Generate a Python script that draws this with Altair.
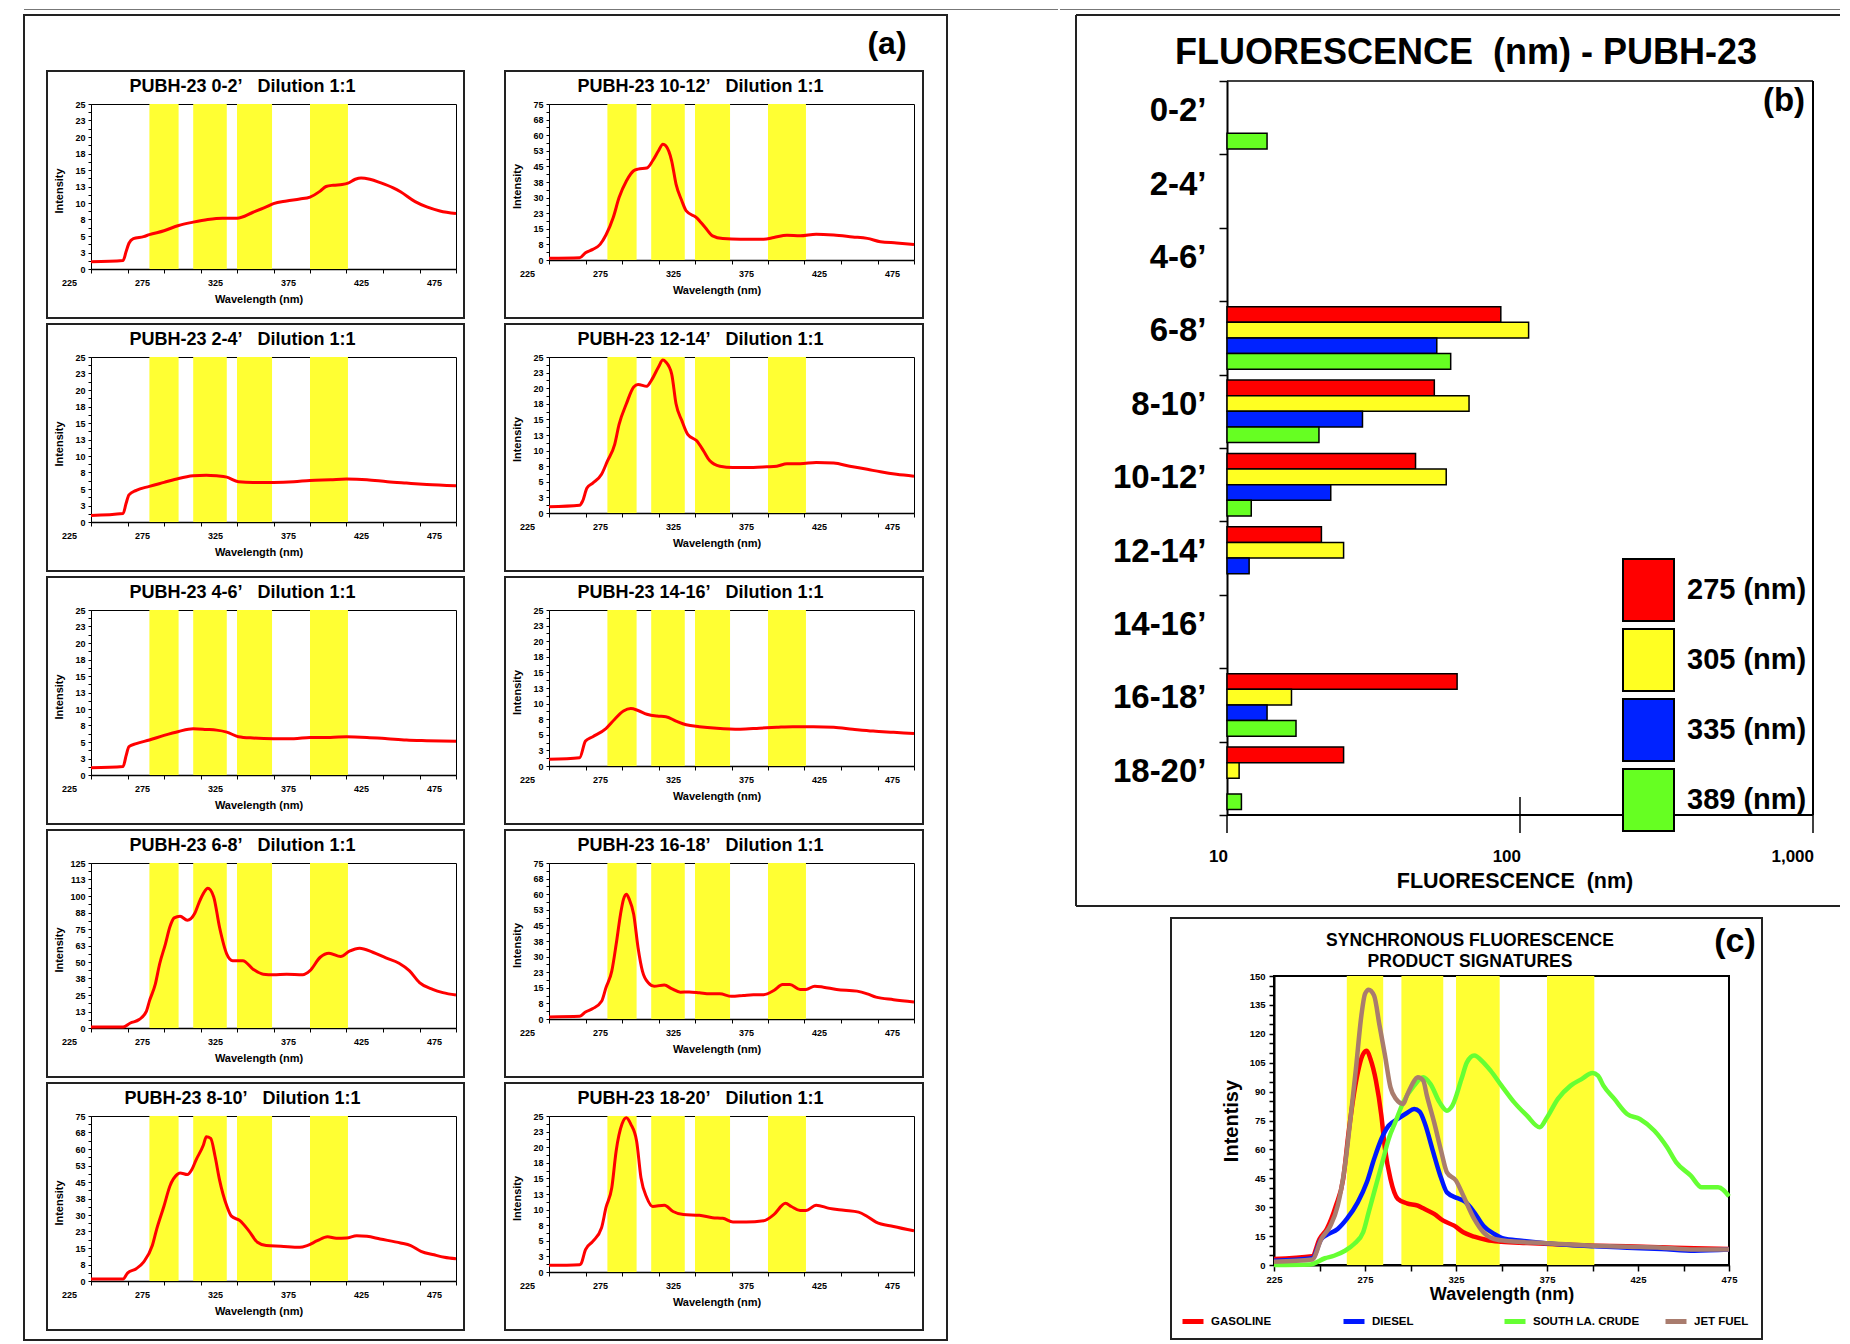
import altair as alt
import pandas as pd

ARIAL = "Liberation Sans, Arial, Helvetica, sans-serif"
YELLOW = "#FFFF33"

# ---------------- yellow wavelength windows (nm)
band_start = [265, 295, 325, 375]
band_end = [285, 318, 349, 401]

# ---------------- panel (a) spectra
w02 = [225,247,249,251,254,261,265,275,285,295,305,315,325,336,345,350,359,368,375,382,386,391,397,401,406,410,416,423,432,437,447,455,464,475]
v02 = [1.1,1.3,2.6,3.9,4.6,4.9,5.2,5.8,6.6,7.1,7.5,7.7,7.7,8.6,9.4,9.9,10.3,10.6,10.9,11.8,12.5,12.7,12.8,13.0,13.6,13.8,13.6,13.1,12.3,11.7,10.2,9.4,8.8,8.4]

w24 = [225,247,249,251,256,265,275,285,295,304,311,318,326,336,350,364,375,389,400,414,428,441,455,475]
v24 = [1.0,1.3,2.8,4.1,4.8,5.4,6.0,6.6,7.0,7.1,7.0,6.8,6.1,6.0,6.0,6.1,6.3,6.4,6.5,6.4,6.1,5.9,5.7,5.5]

w46 = [225,247,249,251,256,265,275,285,295,304,311,318,326,336,350,364,375,389,400,414,428,441,455,475]
v46 = [1.1,1.3,2.9,4.3,4.75,5.3,6.0,6.6,7.0,6.9,6.8,6.5,5.8,5.6,5.5,5.5,5.7,5.7,5.8,5.7,5.5,5.3,5.2,5.1]

w68 = [225,247,252,258,263,265,269,272,276,279,282,286,291,296,299,302,305,309,313,318,322,329,336,343,350,359,370,375,382,388,396,402,409,418,427,436,443,450,459,466,475]
v68 = [0.8,0.8,3.8,6.4,12.8,20.4,33,48.5,63.8,76.5,83.4,84.7,81.6,86.7,95,102,105.9,99.5,76.5,56,51,51,44.6,40.8,40.3,40.8,40.3,43.4,53.6,56.6,54.1,58.2,60.5,57.4,53.1,49,43.4,34.4,29.3,26.8,25]

w810 = [225,247,250,256,261,267,270,275,279,284,286,291,294,297,302,304,307,310,313,318,321,327,333,339,345,355,368,373,380,387,393,400,407,414,423,437,444,451,460,467,475]
v810 = [0.9,0.9,3.6,5.6,8.6,16.1,23.6,34.1,43.1,48.4,49.1,48.4,50.6,55.1,61.8,65.6,64.8,56.6,46.1,34.1,29.6,27.4,22.9,17.6,16.1,15.8,15.3,16.1,18.3,20.1,19.4,19.5,20.6,20.3,19.1,17.3,16.1,13.5,11.9,10.8,10.1]

w1012 = [225,246,250,255,260,264,269,273,278,283,286,292,296,300,303,305,309,312,316,319,326,332,337,344,356,372,379,388,397,408,420,433,443,452,463,475]
v1012 = [0.8,1.1,3.5,5.1,7.5,12,20.4,30,38,42.9,43.7,44.2,47.7,52.5,55.7,54.9,47.7,36.5,28.4,23.6,20.4,15.6,11.6,10.3,10.0,10.0,10.8,11.9,11.6,12.4,12.0,11.1,10.4,8.8,8.2,7.5]

w1214 = [225,246,248,251,255,261,265,270,273,278,283,286,292,295,300,303,305,309,312,316,320,326,331,335,342,351,365,374,381,388,397,408,420,431,443,452,463,475]
v1214 = [1.0,1.24,1.9,4.0,4.8,6.2,8.3,11.0,14.2,17.5,20.2,20.6,20.3,21.2,23.4,24.5,24.2,22.3,17.5,14.8,12.6,11.6,9.9,8.4,7.5,7.3,7.3,7.4,7.5,7.9,7.9,8.1,8.0,7.5,7.0,6.6,6.2,5.9]

w1416 = [225,246,250,255,264,270,276,281,286,292,299,305,312,319,328,340,356,369,381,392,406,420,433,447,461,475]
v1416 = [1.07,1.34,4.0,4.7,6.0,7.5,8.8,9.2,8.9,8.3,8.0,7.9,7.2,6.6,6.3,6.05,5.9,6.05,6.2,6.3,6.3,6.2,5.9,5.6,5.4,5.2]

w1618 = [225,246,250,255,261,264,268,271,274,276,278,280,283,286,289,293,297,304,309,315,321,328,335,342,350,358,365,372,379,385,390,397,401,407,413,422,436,443,449,461,475]
v1618 = [1.0,1.3,3.4,5.0,8.5,15.0,23.0,35.9,50.4,57.5,60,57.5,50.4,34.3,23.0,17.4,15.8,16.3,14.6,12.9,13.0,12.6,12.1,12.1,10.9,11.3,11.7,11.7,13.7,16.6,16.6,14.2,14.2,15.8,15.3,14.2,13.4,12.1,10.5,9.3,8.2]

w1820 = [225,246,247,250,255,261,264,268,271,275,278,281,285,288,292,296,304,310,317,328,337,344,351,360,372,379,387,391,397,401,408,417,427,437,443,449,461,475]
v1820 = [1.07,1.18,1.34,3.6,4.9,7.1,10.3,13.5,19.4,23.7,24.7,23.7,21.0,15.1,11.9,10.5,10.7,9.7,9.2,9.1,8.7,8.6,8.0,8.0,8.2,9.2,11.0,10.5,9.85,9.85,10.7,10.2,9.9,9.6,8.9,8.0,7.3,6.6]

panel_names = ["0-2’", "10-12’", "2-4’", "12-14’", "4-6’", "14-16’", "6-8’", "16-18’", "8-10’", "18-20’"]
panel_ymax = [25, 75, 25, 25, 25, 25, 125, 75, 75, 25]
panel_wl = [w02, w1012, w24, w1214, w46, w1416, w68, w1618, w810, w1820]
panel_val = [v02, v1012, v24, v1214, v46, v1416, v68, v1618, v810, v1820]

# ---------------- panel (b) bar values
depths = ["0-2’", "2-4’", "4-6’", "6-8’", "8-10’", "10-12’", "12-14’", "14-16’", "16-18’", "18-20’"]
wave_labels = ["275 (nm)", "305 (nm)", "335 (nm)", "389 (nm)"]
wave_colors = ["#FF0000", "#FFFF22", "#0022FF", "#66FF22"]
f275 = [None, None, None, 86, 51, 44, 21, None, 61, 25]
f305 = [None, None, None, 107, 67, 56, 25, None, 16.6, 11]
f335 = [None, None, None, 52, 29, 22.6, 11.9, None, 13.7, None]
f389 = [13.7, None, None, 58, 20.6, 12.1, None, None, 17.2, 11.2]
fl_ticks = [10, 100, 1000]
fl_tick_labels = ["10", "100", "1,000"]

# ---------------- panel (c) product signatures
gas_w = [225,246,250,254,259,263,266,270,274,276,278,281,284,286,289,293,298,304,307,313,318,324,329,335,342,350,364,383,401,419,438,456,475]
gas_v = [3.1,4.5,13.5,18.7,30.8,44.6,68.9,94.8,109.5,111.2,106.9,95.7,77.5,60.2,44.6,34.3,32.0,30.8,29.4,26.5,23.0,20.4,17.0,14.7,13.0,12.1,11.4,10.6,10.0,9.7,9.2,8.7,8.3]
dsl_w = [225,246,251,254,260,265,271,276,280,284,288,293,298,302,305,308,312,317,320,326,330,335,340,346,351,361,383,401,419,438,456,475]
dsl_v = [2.2,3.5,13.5,15.6,18.7,23.9,32.5,42.9,55.0,65.4,72.3,75.8,78.9,81.0,79.6,73.2,60.2,44.6,37.7,34.6,32.9,27.3,20.4,16.1,13.8,12.6,10.6,9.7,9.0,8.3,7.4,8.0]
crd_w = [225,245,253,258,264,269,274,277,281,285,288,292,296,302,307,311,316,320,323,328,331,335,340,344,350,357,364,371,375,381,388,394,400,403,406,412,419,426,434,441,446,454,460,469,475]
crd_v = [0,0.3,3.5,4.8,7.4,10.9,17.0,27.3,41.2,55.0,65.4,74.9,84.4,93.1,97.4,93.9,84.4,80.1,82.7,96.5,105.2,108.7,105.2,100.9,93.1,84.4,77.5,71.5,76.6,86.2,93.1,96.5,99.7,98.3,93.1,86.2,78.4,75.8,69.7,61.1,53.3,46.4,40.3,40.3,35.6]
jet_w = [225,246,251,256,260,264,267,270,273,275,277,280,283,286,289,292,296,298,301,304,307,309,313,317,320,325,329,335,340,346,355,373,401,419,438,456,475]
jet_v = [1.7,2.8,13.5,20.4,30.8,51.6,75.8,101.7,129.4,140.7,142.9,139.8,124.2,108.7,92.2,86.2,83.6,87.9,93.9,97.4,95.7,87.9,74.0,58.5,48.1,43.8,36.0,23.9,17.0,13.5,12.3,11.4,10.0,9.5,9.0,8.0,8.0]
prod_names = ["GASOLINE", "DIESEL", "SOUTH LA. CRUDE", "JET FUEL"]
prod_colors = ["#FF0000", "#0018FF", "#66FF33", "#A97C6E"]
prod_w = [gas_w, dsl_w, crd_w, jet_w]
prod_v = [gas_v, dsl_v, crd_v, jet_v]

# ---------------- helpers
bands_df = pd.DataFrame({"start": band_start, "end": band_end})
one = pd.DataFrame({"k": [0]})


def txt(t, x, y, size, align="center", baseline="middle", **kw):
    return alt.Chart(pd.DataFrame({"t": [t]})).mark_text(
        font=ARIAL, fontSize=size, fontWeight="bold", align=align,
        baseline=baseline, color="black", **kw
    ).encode(x=alt.value(x), y=alt.value(y), text="t:N")


def box(x1, x2, y1, y2, w=2, color="#222222"):
    return alt.Chart(one).mark_rect(filled=False, stroke=color, strokeWidth=w).encode(
        x=alt.value(x1), x2=alt.value(x2), y=alt.value(y1), y2=alt.value(y2))


def hrule(x1, x2, y, w=2, color="#222222"):
    return alt.Chart(one).mark_rule(color=color, strokeWidth=w).encode(
        x=alt.value(x1), x2=alt.value(x2), y=alt.value(y))


def vrule(x, y1, y2, w=2, color="#222222"):
    return alt.Chart(one).mark_rule(color=color, strokeWidth=w).encode(
        x=alt.value(x), y=alt.value(y1), y2=alt.value(y2))


# ---------------- panel (a)
PW = 365
PH = [165, 156]


def small_panel(i):
    col = i % 2
    h = PH[col]
    ymax = panel_ymax[i]
    df = pd.DataFrame({"wl": panel_wl[i], "val": panel_val[i]})
    xs = alt.Scale(domain=[225, 475], nice=False, zero=False)
    ys = alt.Scale(domain=[0, ymax], nice=False, zero=True)
    xa = alt.Axis(
        values=list(range(225, 476, 25)),
        format="d",
        labelExpr="datum.value % 50 == 25 ? datum.label : ''",
        labelOffset=-22, labelFont=ARIAL, labelFontSize=9, labelFontWeight="bold",
        labelColor="black", labelPadding=5, labelFlush=False, labelOverlap=False, labelBound=False,
        tickSize=4, tickColor="black", domainColor="black", domainWidth=1.5, grid=False,
        title="Wavelength (nm)", titleFont=ARIAL, titleFontSize=11, titleFontWeight="bold",
        titleColor="black", titleX=PW / 2 - 15, titleY=30, titleBaseline="middle",
    )
    test = f"abs(datum.value*10/{ymax} - round(datum.value*10/{ymax})) < 0.01"
    ya = alt.Axis(
        values=[round(ymax * k / 20, 4) for k in range(21)],
        labelExpr=f"{test} ? format(datum.value, '.0f') : ''",
        labelFont=ARIAL, labelFontSize=9, labelFontWeight="bold", labelColor="black",
        labelPadding=3, labelOverlap=False, labelFlush=False, labelBound=False,
        tickSize=3, tickColor="black", domainColor="black", domainWidth=1, grid=False,
        title="Intensity", titleFont=ARIAL, titleFontSize=11, titleFontWeight="bold",
        titleColor="black", titleX=-32, titleY=h / 2 + 4, titleBaseline="middle", titleAngle=270,
    )
    bands = alt.Chart(bands_df).mark_rect(color=YELLOW).encode(
        x=alt.X("start:Q", scale=xs, axis=xa), x2="end:Q")
    line = alt.Chart(df).mark_line(color="#FF0000", strokeWidth=3, interpolate="monotone").encode(
        x=alt.X("wl:Q", scale=xs, axis=xa), y=alt.Y("val:Q", scale=ys, axis=ya))
    frame = box(-44, PW + 8 + col, -33, 214)
    title = txt("PUBH-23 " + panel_names[i] + "\u00a0\u00a0\u00a0Dilution 1:1",
                PW / 2 - 31, -12, 18, baseline="alphabetic")
    layers = [bands, line, frame, title]
    if i == 0:
        layers += [
            box(-67, 856, -89, 1236),
            hrule(-67, 967, -94.5, w=1, color="#777777"),
            txt("(a)", 796, -60, 32),
        ]
    return alt.layer(*layers).properties(width=PW, height=h)


panels = [small_panel(i) for i in range(10)]
A = alt.concat(*panels, columns=2, spacing={"row": 88, "column": 93}, bounds="flush").resolve_scale(
    x="independent", y="independent")

# ---------------- panel (b)   (origin of this view sits at page (1274,103))
BX0, BY0 = -47, -23
BW = BX0 + 586
BH = BY0 + 734
RIGHT_END = 566
bar_rows = []
for i, d in enumerate(depths):
    for s, arr in zip(wave_labels, [f275, f305, f335, f389]):
        if arr[i] is not None:
            bar_rows.append({"depth": d, "wave": s, "fl": arr[i], "base": 10})
bdf = pd.DataFrame(bar_rows)
tick_df = pd.DataFrame({"fl": fl_ticks, "lab": fl_tick_labels})

xlog = alt.Scale(type="log", domain=[10, 1000], nice=False, range=[BX0, BW])
yaxis_b = alt.Axis(
    title=None, offset=-BX0, labelFont=ARIAL, labelFontSize=33, labelFontWeight="bold",
    labelColor="black", labelAlign="right", labelBaseline="middle", labelPadding=13,
    labelOffset=-7, labelLimit=400, grid=False,
    tickSize=8, tickBand="extent", tickWidth=1.5, tickColor="black",
    domainColor="black", domainWidth=2,
)
legend_b = alt.Legend(
    title=None, orient="none", legendX=342.5, legendY=454, padding=0, rowPadding=0,
    symbolType="M-0.8226,-1H0.8226V1H-0.8226Z", symbolSize=3844,
    symbolStrokeColor="black", symbolStrokeWidth=2, symbolOpacity=1,
    labelFont=ARIAL, labelFontSize=29, labelFontWeight="bold", labelColor="black",
    labelOffset=6.5, labelLimit=400,
)
bars = alt.Chart(bdf).mark_bar(stroke="black", strokeWidth=1.5, opacity=1).encode(
    y=alt.Y("depth:N", sort=depths,
            scale=alt.Scale(domain=depths, range=[BY0, BH], paddingInner=0, paddingOuter=0),
            axis=yaxis_b),
    yOffset=alt.YOffset("wave:N", sort=wave_labels,
                        scale=alt.Scale(domain=wave_labels, paddingInner=0, paddingOuter=0.35)),
    x=alt.X("fl:Q", scale=xlog, axis=None),
    x2=alt.X2("base:Q"),
    color=alt.Color("wave:N", scale=alt.Scale(domain=wave_labels, range=wave_colors), legend=legend_b),
)
# hand-built log axis (ticks below, plus the inner tick at 100, and labels)
x_ticks = alt.Chart(tick_df).mark_rule(color="black", strokeWidth=1.5).encode(
    x=alt.X("fl:Q", scale=xlog, axis=None), y=alt.value(BH), y2=alt.value(BH + 18))
x_tick_in = alt.Chart(tick_df).transform_filter(alt.datum.fl == 100).mark_rule(
    color="black", strokeWidth=1.5).encode(
    x=alt.X("fl:Q", scale=xlog, axis=None), y=alt.value(BH - 18), y2=alt.value(BH))
x_labels = alt.Chart(tick_df).mark_text(
    font=ARIAL, fontSize=17, fontWeight="bold", align="right", baseline="middle", color="black", dx=1
).encode(x=alt.X("fl:Q", scale=xlog, axis=None), y=alt.value(BH + 42), text="lab:N")

b_chart = alt.layer(
    bars, x_ticks, x_tick_in, x_labels,
    hrule(BX0, BW, BH, w=2, color="black"),
    hrule(BX0, BW, BY0, w=1.5, color="black"),
    vrule(BW, BY0, BH, w=2, color="black"),
    vrule(-198, -89, 802), hrule(-198, RIGHT_END, -89), hrule(-198, RIGHT_END, 802),
    hrule(-214, RIGHT_END, -94.5, w=1, color="#777777"),
    txt("FLUORESCENCE\u00a0\u00a0(nm) - PUBH-23", 192, -40, 36, baseline="alphabetic"),
    txt("FLUORESCENCE\u00a0\u00a0(nm)", 241, BH + 67, 21.5),
    txt("(b)", 510, -3, 33),
).properties(width=BW, height=BH, view=alt.ViewBackground(stroke="transparent", strokeWidth=0))

# ---------------- panel (c)   (origin at page (1274,976))
CW, CH = 455, 289
crows = []
for nm, ws, vs in zip(prod_names, prod_w, prod_v):
    for w_, v_ in zip(ws, vs):
        crows.append({"series": nm, "wl": w_, "val": v_})
cdf = pd.DataFrame(crows)
cx = alt.Scale(domain=[225, 475], nice=False, zero=False)
cy = alt.Scale(domain=[0, 150], nice=False)
xaxis_c = alt.Axis(
    values=list(range(225, 476, 25)), format="d",
    labelExpr="(datum.value - 225) % 50 == 0 ? datum.label : ''",
    labelFont=ARIAL, labelFontSize=9.5, labelFontWeight="bold", labelColor="black",
    labelPadding=3, labelFlush=False, labelOverlap=False, labelBound=False,
    tickSize=6, tickWidth=1.5, tickColor="black", domainColor="black", domainWidth=2, grid=False,
    title="Wavelength (nm)", titleFont=ARIAL, titleFontSize=18, titleFontWeight="bold",
    titleColor="black", titleY=29.5, titleBaseline="middle",
)
yaxis_c = alt.Axis(
    values=list(range(0, 151, 5)),
    labelExpr="datum.value % 15 == 0 ? datum.label : ''",
    labelFont=ARIAL, labelFontSize=9.5, labelFontWeight="bold", labelColor="black",
    labelPadding=4, labelFlush=False, labelOverlap=False, labelBound=False,
    tickSize=5, tickWidth=1.5, tickColor="black", domainColor="black", domainWidth=2, grid=False,
    title="Intentisy", titleFont=ARIAL, titleFontSize=20, titleFontWeight="bold",
    titleColor="black", titleX=-43, titleY=CH / 2, titleBaseline="middle", titleAngle=270,
)
legend_c = alt.Legend(
    title=None, orient="none", legendX=-94, legendY=332.5, direction="horizontal",
    columns=4, gridAlign="all", columnPadding=15, padding=0,
    symbolType="stroke", symbolSize=441, symbolStrokeWidth=5,
    labelFont=ARIAL, labelFontSize=11.5, labelFontWeight="bold", labelColor="black", labelOffset=5,
)
c_bands = alt.Chart(bands_df).mark_rect(color=YELLOW).encode(
    x=alt.X("start:Q", scale=cx, axis=xaxis_c), x2="end:Q")
c_lines = [
    alt.Chart(cdf).transform_filter(alt.datum.series == nm).mark_line(
        strokeWidth=4.5, interpolate="monotone").encode(
        x=alt.X("wl:Q", scale=cx, axis=xaxis_c),
        y=alt.Y("val:Q", scale=cy, axis=yaxis_c),
        color=alt.Color("series:N", scale=alt.Scale(domain=prod_names, range=prod_colors), legend=legend_c),
    )
    for nm in prod_names
]
c_chart = alt.layer(
    c_bands, *c_lines,
    box(-103, 488, -58, 363),
    txt("SYNCHRONOUS FLUORESCENCE\nPRODUCT SIGNATURES", CW / 2 - 31.5, -30, 17.5,
        baseline="alphabetic", lineBreak="\n", lineHeight=21),
    txt("(c)", 461, -34, 34),
).properties(width=CW, height=CH, view=alt.ViewBackground(stroke="black", strokeWidth=2))

B = alt.vconcat(b_chart, c_chart, spacing=9).resolve_scale(color="independent").resolve_legend(
    color="independent")

chart = alt.hconcat(A, B, spacing=0).properties(
    padding={"left": 14, "top": 0, "right": 0, "bottom": 0}
).configure_view(stroke="black", strokeWidth=1).configure_axis(grid=False)

chart.save("out.html", embed_options={"renderer": "svg", "actions": False})
